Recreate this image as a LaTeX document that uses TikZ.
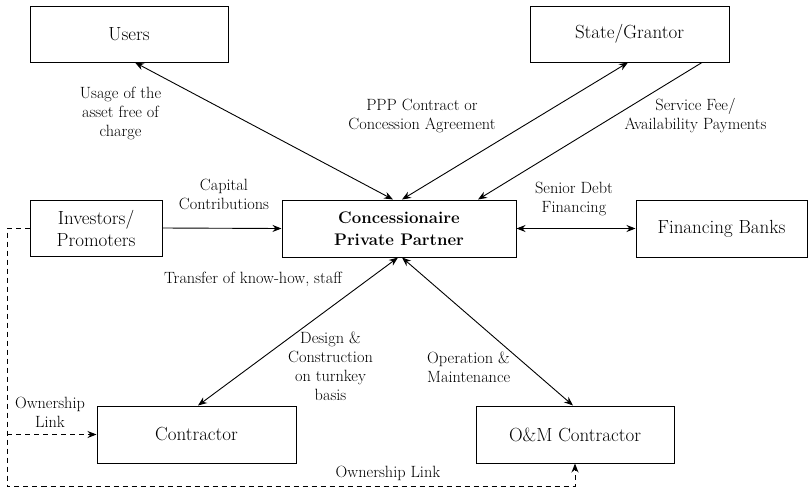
\documentclass[tikz,border=0pt]{standalone}
\usepackage{fontspec}
\usetikzlibrary{arrows.meta,calc}
\begin{document}
\begin{tikzpicture}[x=1pt,y=-1pt,
 box/.style={draw,line width=1pt,minimum width=199pt,minimum height=56pt,inner sep=0pt,font=\fontsize{19}{22}\selectfont,align=center},
 lbl/.style={font=\fontsize{16.3}{19}\selectfont,align=center,inner sep=0pt},
 link/.style={line width=0.9pt},
 tip/.style={-{Stealth[length=9pt,width=7pt]}},
 both/.style={{Stealth[length=9pt,width=7pt]}-{Stealth[length=9pt,width=7pt]}},
 own/.style={line width=0.9pt,dash pattern=on 5pt off 4pt}]
\useasboundingbox (0,0) rectangle (809,491);
% boxes
\node[box,minimum width=198pt] (users) at (129,34) {Users};
\node[box] (state) at (629.5,34) {State/Grantor};
\node[box,minimum width=132pt] (inv) at (96,228) {Investors/\\Promoters};
\node[box,minimum width=234pt,minimum height=57pt,font=\fontsize{16.8}{21.5}\selectfont\bfseries] (conc) at (399,228.5) {Concessionaire\\Private Partner};
\node[box,minimum width=171pt,minimum height=57pt] (banks) at (721.5,228.5) {Financing Banks};
\node[box,minimum height=57pt] (contr) at (196.5,434.5) {Contractor};
\node[box,minimum width=198pt,minimum height=57pt] (om) at (575,434.5) {O\&M Contractor};
% connectors
\draw[link,both] ([xshift=6pt]users.south) -- ([xshift=-6pt]conc.north);
\draw[link,both] ([xshift=-1.5pt]state.south) -- ([xshift=3pt]conc.north);
\draw[link,tip] ([xshift=72.5pt]state.south) -- ([xshift=79pt]conc.north);
\draw[link,tip] (inv.east) -- (conc.west);
\draw[link,both] (conc.east) -- (banks.west);
\draw[link,both] ([xshift=-1pt]conc.south) -- ([xshift=1.5pt]contr.north);
\draw[link,both] ([xshift=3pt]conc.south) -- ([xshift=-2pt]om.north);
% ownership links
\coordinate (c1) at (7,228);
\coordinate (c2) at (7,486);
\coordinate (c3) at (7,434.5);
\draw[own,tip] (inv.west) -- (c1) -- (c2) -| (om.south);
\draw[own,tip] (c3) -- (contr.west);
% labels
\node[lbl] (l1) at (120.5,113.5) {Usage of the\\asset free of\\charge};
\node[lbl] (l2) at (422,116) {PPP Contract or\\Concession Agreement};
\node[lbl] (l3) at (695.5,116) {Service Fee/\\Availability Payments};
\node[lbl] (l4) at (224,194) {Capital\\Contributions};
\node[lbl] (l5) at (574,199) {Senior Debt\\Financing};
\node[lbl] (l6) at (253,279) {Transfer of know-how, staff};
\node[lbl] (l7) at (330.5,366.5) {Design \&\\Construction\\on turnkey\\basis};
\node[lbl,align=left,anchor=west] (l8) at (427,367.5) {Operation \&\\Maintenance};
\node[lbl] (l9) at (50,412) {Ownership\\Link};
\node[lbl] (l10) at (388,473) {Ownership Link};
\end{tikzpicture}
\end{document}
